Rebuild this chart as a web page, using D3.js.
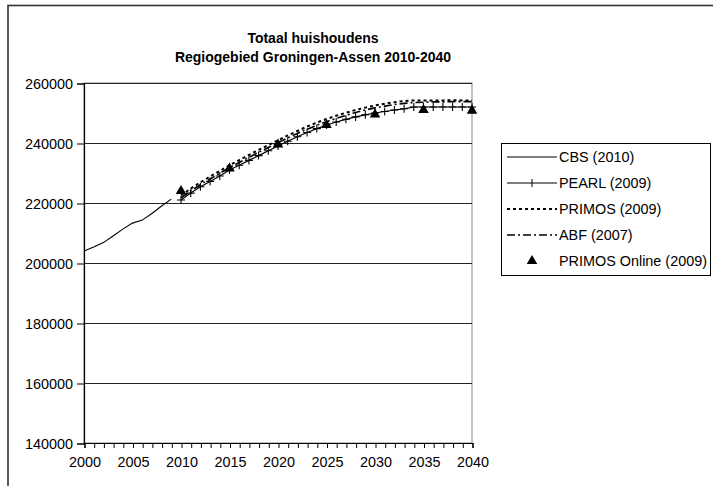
<!DOCTYPE html>
<html>
<head>
<meta charset="utf-8">
<script src="https://cdn.jsdelivr.net/npm/d3@7/dist/d3.min.js"></script>
<style>
  html, body { margin: 0; padding: 0; background: #fff; }
  svg { display: block; font-family: "Liberation Sans", Arial, sans-serif; }
</style>
</head>
<body>
<svg id="chart" width="713" height="486"></svg>
<script>
// Households in the Groningen-Assen region, observed and projected
const titleLines = ["Totaal huishoudens", "Regiogebied Groningen-Assen 2010-2040"];

const cbsYears = [2000, 2001, 2002, 2003, 2004, 2005, 2006, 2007, 2008, 2009];
const cbsValues = [204000, 205300, 206800, 209000, 211300, 213300, 214300, 216500, 219000, 221300];

const projYears = [2010, 2011, 2012, 2013, 2014, 2015, 2016, 2017, 2018, 2019,
                   2020, 2021, 2022, 2023, 2024, 2025, 2026, 2027, 2028, 2029,
                   2030, 2031, 2032, 2033, 2034, 2035, 2036, 2037, 2038, 2039, 2040];
const pearlValues = [221000, 223300, 225400, 227200, 229000, 231000, 232600, 234200, 235800, 237400,
                     239000, 240600, 242100, 243500, 244800, 246000, 247000, 247900, 248700, 249400,
                     250000, 250500, 251000, 251400, 252000, 252000, 252000, 252000, 252000, 252000, 252000];
const primosValues = [222500, 224800, 226900, 228800, 230700, 232600, 234300, 236000, 237700, 239300,
                      240900, 242500, 244000, 245500, 246800, 248000, 249100, 250100, 251000, 251800,
                      252500, 253100, 253600, 254000, 254200, 254200, 254200, 254200, 254300, 254200, 254100];
const abfValues = [221700, 224000, 226100, 228000, 229900, 231800, 233500, 235200, 236900, 238500,
                   240100, 241700, 243200, 244600, 245900, 247100, 248200, 249200, 250200, 251000,
                   251700, 252300, 252800, 253200, 253500, 253600, 253700, 253700, 253800, 253800, 253800];

const onlineYears = [2010, 2015, 2020, 2025, 2030, 2035, 2040];
const onlineValues = [224000, 231500, 239500, 246000, 249500, 251000, 250800];

const yTicks = [140000, 160000, 180000, 200000, 220000, 240000, 260000];
const xLabelYears = [2000, 2005, 2010, 2015, 2020, 2025, 2030, 2035, 2040];
const xTickYears = d3.range(2000, 2041);

const legendLabels = ["CBS (2010)", "PEARL (2009)", "PRIMOS (2009)", "ABF (2007)", "PRIMOS Online (2009)"];

const svg = d3.select("#chart");
const FONT = 14.4;

// chart area frame
svg.append("rect")
  .attr("x", 8).attr("y", 5.5).attr("width", 720).attr("height", 500)
  .attr("fill", "#fff").attr("stroke", "#333").attr("stroke-width", 1.6);

const x = d3.scaleLinear().domain([2000, 2040]).range([84, 472]);
const y = d3.scaleLinear().domain([140000, 260000]).range([443, 83]);

// plot area border (grey), gridlines on top
svg.append("rect")
  .attr("x", x(2000)).attr("y", y(260000))
  .attr("width", x(2040) - x(2000)).attr("height", y(140000) - y(260000))
  .attr("fill", "none").attr("stroke", "#999").attr("stroke-width", 1.2);

svg.append("g").selectAll("line").data(yTicks.slice(1)).join("line")
  .attr("x1", x(2000)).attr("x2", x(2040))
  .attr("y1", d => Math.round(y(d)) + 0.5).attr("y2", d => Math.round(y(d)) + 0.5)
  .attr("stroke", "#222").attr("stroke-width", 1.1);

// axes
const yAxis = svg.append("g")
  .attr("transform", `translate(${x(2000)},0.5)`)
  .call(d3.axisLeft(y).tickValues(yTicks).tickSize(7).tickPadding(4).tickFormat(d3.format("d")));
const xAxis = svg.append("g")
  .attr("transform", `translate(0.5,${y(140000)})`)
  .call(d3.axisBottom(x).tickValues(xTickYears).tickSize(5).tickPadding(9)
    .tickFormat(d => xLabelYears.includes(d) ? String(d) : ""));
[yAxis, xAxis].forEach(g => {
  g.selectAll("path.domain").attr("stroke", "#000").attr("stroke-width", 1.2);
  g.selectAll(".tick line").attr("stroke", "#000");
  g.selectAll("text").attr("font-size", FONT).attr("fill", "#000")
    .attr("font-family", "'Liberation Sans', Arial, sans-serif");
});

// title
svg.append("g").selectAll("text").data(titleLines).join("text")
  .attr("x", 313).attr("y", (d, i) => 43 + i * 18.5)
  .attr("text-anchor", "middle").attr("font-weight", "bold")
  .attr("font-size", 14).text(d => d);

const line = d3.line().x(d => x(d[0])).y(d => y(d[1]));
const zip = (xs, vs) => xs.map((v, i) => [v, vs[i]]);

const plot = svg.append("g");
// ABF dash-dot
plot.append("path").datum(zip(projYears, abfValues)).attr("d", line)
  .attr("fill", "none").attr("stroke", "#000").attr("stroke-width", 1.6)
  .attr("stroke-dasharray", "8,3,2,3");
// PRIMOS dotted
plot.append("path").datum(zip(projYears, primosValues)).attr("d", line)
  .attr("fill", "none").attr("stroke", "#000").attr("stroke-width", 2)
  .attr("stroke-dasharray", "3,3");
// PEARL with plus markers
plot.append("path").datum(zip(projYears, pearlValues)).attr("d", line)
  .attr("fill", "none").attr("stroke", "#000").attr("stroke-width", 1.2);
plot.append("g").selectAll("path").data(zip(projYears, pearlValues)).join("path")
  .attr("d", d => `M${x(d[0]) - 4},${y(d[1])}h8M${x(d[0])},${y(d[1]) - 4}v8`)
  .attr("stroke", "#000").attr("stroke-width", 1.1);
// CBS observed
plot.append("path").datum(zip(cbsYears, cbsValues)).attr("d", line)
  .attr("fill", "none").attr("stroke", "#000").attr("stroke-width", 1.1);
// PRIMOS Online triangles
const tri = d3.symbol().type(d3.symbolTriangle).size(48);
plot.append("g").selectAll("path").data(zip(onlineYears, onlineValues)).join("path")
  .attr("transform", d => `translate(${x(d[0])},${y(d[1])})`)
  .attr("d", tri).attr("fill", "#000");

// legend
const lg = svg.append("g");
lg.append("rect").attr("x", 501.5).attr("y", 143.5).attr("width", 209).attr("height", 132)
  .attr("fill", "#fff").attr("stroke", "#000").attr("stroke-width", 1);
const rowY = i => 157 + i * 26;
const styles = [
  {dash: null, w: 1.1},
  {dash: null, w: 1.1, plus: true},
  {dash: "3,3", w: 2},
  {dash: "8,3,2,3", w: 1.6},
  {tri: true}
];
legendLabels.forEach((lab, i) => {
  const s = styles[i], yy = rowY(i);
  if (s.tri) {
    lg.append("path").attr("transform", `translate(532,${yy})`).attr("d", tri).attr("fill", "#000");
  } else {
    lg.append("line").attr("x1", 507).attr("x2", 557).attr("y1", yy).attr("y2", yy)
      .attr("stroke", "#000").attr("stroke-width", s.w)
      .attr("stroke-dasharray", s.dash);
    if (s.plus) lg.append("path").attr("d", `M532,${yy - 4}v8`).attr("stroke", "#000");
  }
  lg.append("text").attr("x", 559).attr("y", yy + 5).attr("font-size", 14.4).text(lab);
});
</script>
</body>
</html>
